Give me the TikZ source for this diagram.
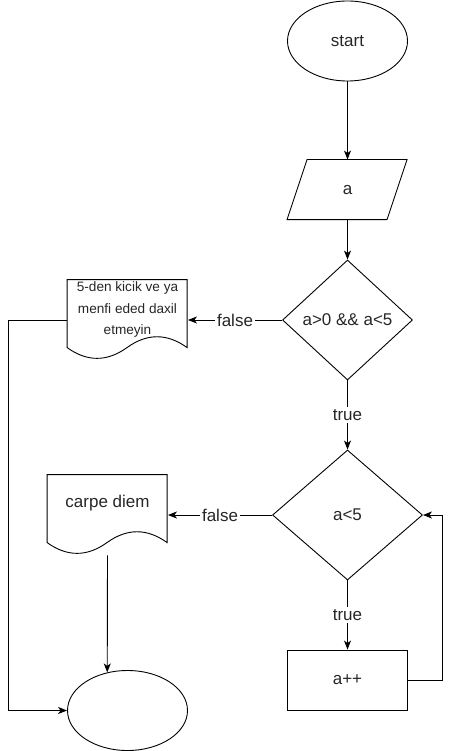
\documentclass[tikz,border=0pt]{standalone}
\usepackage{fontspec}
\setmainfont{Liberation Sans}
\usetikzlibrary{shapes.geometric,arrows.meta}
\begin{document}
\begin{tikzpicture}[x=1pt,y=-1pt,line width=0.9pt,
  every node/.style={font=\fontsize{17}{20}\selectfont,text=black!85},
  term/.style={ellipse,draw,minimum width=120pt,minimum height=80pt,inner sep=0pt},
  dec/.style={diamond,draw,inner sep=0pt},
  procbox/.style={rectangle,draw,minimum width=120pt,minimum height=60pt,inner sep=0pt},
  docframe/.style={rectangle,draw=none,minimum width=120pt,minimum height=80pt,inner sep=0pt},
  ioframe/.style={rectangle,draw=none,minimum width=120pt,minimum height=60pt,inner sep=0pt},
  arr/.style={-{Stealth[length=9pt,width=7pt,inset=2.5pt]}},
  lbl/.style={fill=white,inner sep=2pt},
  smalltext/.style={font=\fontsize{13.6}{21.5}\selectfont,align=center,inner sep=0pt}]
\useasboundingbox (0,0) rectangle (451,751);

% nodes
\node[term] (start) at (347.5,41) {start};
\node[ioframe] (in) at (347.5,190) {a};
\draw[shift={(in.north west)}] (20,0) -- (120,0) -- (100,60) -- (0,60) -- cycle;
\node[dec,minimum width=130pt,minimum height=120pt] (d1) at (347.5,320) {a>0 \&\& a<5};
\node[dec,minimum width=150pt,minimum height=130pt] (d2) at (347.5,515) {a<5};
\node[procbox] (inc) at (347.5,680) {a++};

\node[docframe] (doc1) at (127.5,320) {};
\draw[shift={(doc1.north west)}] (0,0) -- (120,0) -- (120,68)
  .. controls (100,53.6) and (80,53.6) .. (60,68)
  .. controls (40,82.4) and (20,82.4) .. (0,68) -- cycle;
\node[smalltext] (doc1t) at (127.5,309.5) {5-den kicik ve ya\\menfi eded daxil\\etmeyin};

\node[docframe] (doc2) at (107.5,515) {};
\draw[shift={(doc2.north west)}] (0,0) -- (120,0) -- (120,68)
  .. controls (100,53.6) and (80,53.6) .. (60,68)
  .. controls (40,82.4) and (20,82.4) .. (0,68) -- cycle;
\node[inner sep=0pt] (doc2t) at (107.5,503) {carpe diem};

\node[term] (end) at (127.5,710.5) {};

% connectors
\draw[arr] (start) -- (in);
\draw[arr] (in) -- (d1);
\draw[arr] (d1) -- node[lbl] (f1) {false} (doc1);
\draw[arr] (d1) -- node[lbl] (t1) {true} (d2);
\draw[arr] (d2) -- node[lbl] (f2) {false} (doc2);
\draw[arr] (d2) -- node[lbl] (t2) {true} (inc);
\coordinate (loopc) at (442,680);
\draw[arr] (inc.east) -- (loopc) |- (d2.east);
\coordinate (leftc) at (8,320);
\draw[arr] (doc1.west) -- (leftc) |- (end.west);
\draw[arr] (doc2.south) -- (end.118);
\end{tikzpicture}
\end{document}
